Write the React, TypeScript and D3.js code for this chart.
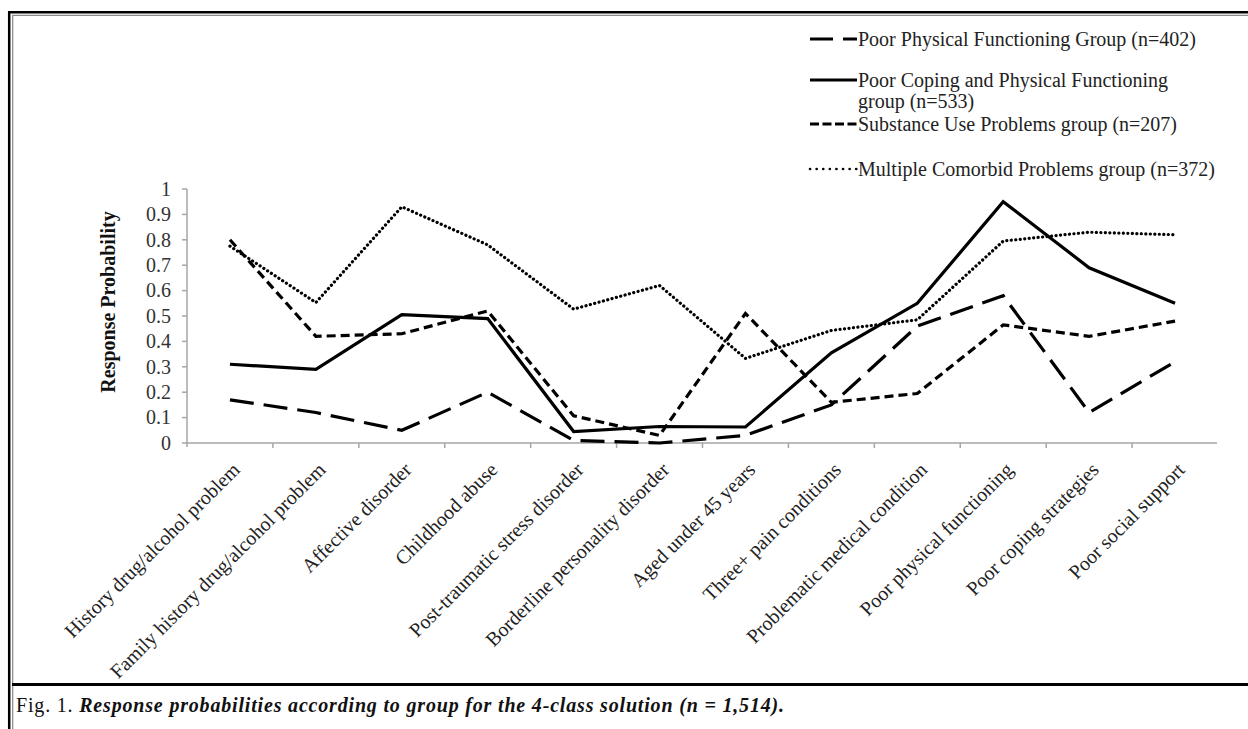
import { useEffect, useRef } from "react";
import * as d3 from "d3";

const categories = [
  "History drug/alcohol problem",
  "Family history drug/alcohol problem",
  "Affective disorder",
  "Childhood abuse",
  "Post-traumatic stress disorder",
  "Borderline personality disorder",
  "Aged under 45 years",
  "Three+ pain conditions",
  "Problematic medical condition",
  "Poor physical functioning",
  "Poor coping strategies",
  "Poor social support",
];

const poorPhysical = [0.17, 0.12, 0.05, 0.2, 0.01, 0.0, 0.03, 0.15, 0.46, 0.58, 0.12, 0.32];
const poorCopingPhysical = [0.31, 0.29, 0.505, 0.49, 0.045, 0.065, 0.063, 0.355, 0.55, 0.95, 0.69, 0.55];
const substanceUse = [0.8, 0.42, 0.43, 0.52, 0.107, 0.03, 0.51, 0.16, 0.195, 0.465, 0.42, 0.48];
const multipleComorbid = [0.775, 0.553, 0.93, 0.78, 0.527, 0.62, 0.333, 0.443, 0.485, 0.795, 0.83, 0.82];

const yTicks = [0, 0.1, 0.2, 0.3, 0.4, 0.5, 0.6, 0.7, 0.8, 0.9, 1];

const legendLines = [
  ["Poor Physical Functioning Group (n=402)"],
  ["Poor Coping and Physical Functioning", "group (n=533)"],
  ["Substance Use Problems group (n=207)"],
  ["Multiple Comorbid Problems group (n=372)"],
];

const W = 1248;
const H = 729;
const FONT = "'Liberation Serif', 'Times New Roman', serif";

export default function App() {
  const svgRef = useRef<SVGSVGElement>(null);

  useEffect(() => {
    if (!svgRef.current) return;
    const svg = d3.select(svgRef.current);
    svg.selectAll("*").remove();

    svg.append("rect").attr("width", W).attr("height", H).attr("fill", "#fff");

    // frame: thick black + thin grey double rule
    svg.append("path").attr("d", `M9.2,${H} V12.3 H${W}`).attr("fill", "none").attr("stroke", "#000").attr("stroke-width", 2.5);
    svg.append("path").attr("d", `M12.7,${H} V15.3 H${W}`).attr("fill", "none").attr("stroke", "#888").attr("stroke-width", 1.2);
    svg.append("line").attr("x1", 12).attr("x2", W).attr("y1", 684.5).attr("y2", 684.5).attr("stroke", "#000").attr("stroke-width", 3);

    const x = d3.scaleBand<string>().domain(categories).range([187, 1218]).padding(0);
    const y = d3.scaleLinear().domain([0, 1]).range([443, 189]);
    const cx = (i: number) => (x(categories[i]) || 0) + x.bandwidth() / 2;

    const axisColor = "#a6a6a6";
    const g = svg.append("g").attr("font-family", FONT);

    // y axis
    g.append("line").attr("x1", 187).attr("x2", 187).attr("y1", y(1)).attr("y2", y(0) + 4).attr("stroke", axisColor).attr("stroke-width", 1.5);
    g.selectAll(".ytick").data(yTicks).join("line")
      .attr("x1", 182).attr("x2", 187)
      .attr("y1", (d) => y(d)).attr("y2", (d) => y(d))
      .attr("stroke", axisColor).attr("stroke-width", 1.5);
    g.selectAll(".ylab").data(yTicks).join("text")
      .attr("x", 171).attr("y", (d) => y(d))
      .attr("dy", "0.34em")
      .attr("text-anchor", "end")
      .attr("font-size", 20).attr("fill", "#333")
      .text((d) => String(d));

    g.append("text")
      .attr("transform", `translate(115, 302) rotate(-90)`)
      .attr("text-anchor", "middle")
      .attr("font-size", 20).attr("font-weight", "bold").attr("fill", "#111")
      .text("Response Probability");

    // x axis
    g.append("line").attr("x1", 187).attr("x2", 1217).attr("y1", y(0)).attr("y2", y(0)).attr("stroke", axisColor).attr("stroke-width", 1.5);
    g.selectAll(".xtick").data(categories.slice(1)).join("line")
      .attr("x1", (d) => x(d) || 0).attr("x2", (d) => x(d) || 0)
      .attr("y1", y(0)).attr("y2", y(0) + 5)
      .attr("stroke", axisColor).attr("stroke-width", 1.5);
    g.selectAll(".xlab").data(categories).join("text")
      .attr("transform", (_, i) => `translate(${cx(i) + 11}, 471) rotate(-45)`)
      .attr("text-anchor", "end")
      .attr("font-size", 20).attr("fill", "#222")
      .text((d) => d);

    // series
    const series = [
      { values: poorPhysical, dash: "24,10", cap: "butt" },
      { values: poorCopingPhysical, dash: null, cap: "butt" },
      { values: substanceUse, dash: "9,5", cap: "butt" },
      { values: multipleComorbid, dash: "0.1,4.4", cap: "round" },
    ];
    const line = d3.line<number>().x((_, i) => cx(i)).y((d) => y(d));
    series.forEach((s) => {
      g.append("path")
        .attr("d", line(s.values))
        .attr("fill", "none")
        .attr("stroke", "#000")
        .attr("stroke-width", s.cap === "round" ? 3.2 : 3.2)
        .attr("stroke-dasharray", s.dash)
        .attr("stroke-linecap", s.cap)
        .attr("stroke-linejoin", "miter");
    });

    // legend
    const legendY = [39, 80, 124, 169];
    const legendText = [46, 87, 131, 176];
    series.forEach((s, i) => {
      g.append("line")
        .attr("x1", 810).attr("x2", 857)
        .attr("y1", legendY[i]).attr("y2", legendY[i])
        .attr("stroke", "#000")
        .attr("stroke-width", s.cap === "round" ? 2.6 : 3)
        .attr("stroke-dasharray", i === 0 ? "23,10" : i === 2 ? "9,3.5" : i === 3 ? "0.1,6.5" : null)
        .attr("stroke-linecap", s.cap);
      const t = g.append("text")
        .attr("x", 858).attr("y", legendText[i])
        .attr("font-size", 20).attr("fill", "#222");
      legendLines[i].forEach((ln, j) => {
        t.append("tspan").attr("x", 858).attr("dy", j === 0 ? 0 : 21).text(ln);
      });
    });

    // caption
    const cap = svg.append("text")
      .attr("x", 16).attr("y", 712)
      .attr("font-family", FONT)
      .attr("font-size", 20).attr("fill", "#111")
      .attr("textLength", 768).attr("lengthAdjust", "spacing");
    cap.append("tspan").text("Fig. 1. ");
    cap.append("tspan").attr("font-style", "italic").attr("font-weight", "bold")
      .text("Response probabilities according to group for the 4-class solution (n = 1,514).");
  }, []);

  return (
    <div style={{ position: "absolute", left: 0, top: 0 }}>
      <svg ref={svgRef} width={W} height={H} />
    </div>
  );
}
